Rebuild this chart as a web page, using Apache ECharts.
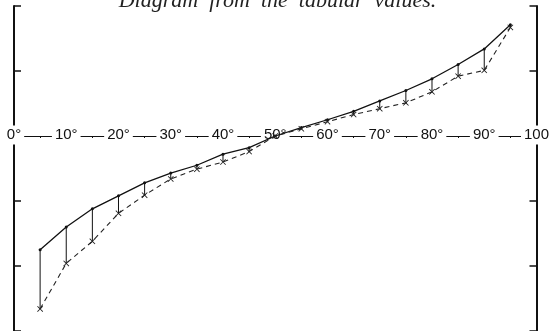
<!DOCTYPE html>
<html>
<head>
<meta charset="utf-8">
<script src="https://cdn.jsdelivr.net/npm/echarts@6/dist/echarts.min.js"></script>
<style>
  html, body { margin: 0; padding: 0; background: #fff; }
  #chart { width: 555px; height: 331px; }
</style>
</head>
<body>
<div id="chart"></div>
<script>
// 角度 (5° 一格)
const degrees = [5, 10, 15, 20, 25, 30, 35, 40, 45, 50, 55, 60, 65, 70, 75, 80, 85, 90, 95]
// 實線 (圓點)
const solidValues = [-1.75, -1.40, -1.12, -0.92, -0.72, -0.57, -0.45, -0.28, -0.18, 0, 0.13, 0.25, 0.38, 0.54, 0.70, 0.88, 1.10, 1.34, 1.71]
// 虛線 (叉號)
const dashedValues = [-2.66, -1.96, -1.62, -1.19, -0.91, -0.66, -0.51, -0.40, -0.24, 0, 0.11, 0.22, 0.33, 0.42, 0.51, 0.68, 0.92, 1.01, 1.67]
// 橫軸刻度標籤
const tickLabels = { 0: '0°', 10: '10°', 20: '20°', 30: '30°', 40: '40°', 50: '50°', 60: '60°', 70: '70°', 80: '80°', 90: '90°', 100: '100' }

const chart = echarts.init(document.getElementById('chart'))

const crossSymbol = 'path://M0,1L1,0L5,4L9,0L10,1L6,5L10,9L9,10L5,6L1,10L0,9L4,5Z'

const yAxisBase = {
  type: 'value',
  min: -3,
  max: 2,
  interval: 1,
  z: 0,
  axisLine: { show: true, lineStyle: { color: '#111', width: 2 } },
  axisTick: { show: true, inside: true, length: 7, lineStyle: { color: '#111', width: 1.5 } },
  axisLabel: { show: false },
  splitLine: { show: false }
}

const option = {
  backgroundColor: '#fff',
  animation: false,
  title: {
    text: 'Diagram  from  the  tabular  values.',
    left: 'center',
    top: -15,
    textStyle: {
      fontFamily: 'Liberation Serif',
      fontStyle: 'italic',
      fontWeight: 'normal',
      fontSize: 22,
      color: '#222'
    }
  },
  grid: { left: 14, right: 15, top: 6, bottom: 0 },
  xAxis: {
    type: 'value',
    min: 0,
    max: 100,
    interval: 5,
    z: 1,
    position: 'bottom',
    // 橫軸放在 0 的位置 (圖高 325 的 3/5)
    offset: -195,
    axisLine: { onZero: false, lineStyle: { color: '#111', width: 1 } },
    axisTick: { show: true, length: 2, lineStyle: { color: '#111' } },
    splitLine: { show: false },
    axisLabel: {
      margin: -1,
      verticalAlign: 'middle',
      showMinLabel: true,
      showMaxLabel: true,
      formatter: (v) => (tickLabels[v] ? '{t|' + tickLabels[v] + '}' : ''),
      rich: {
        t: {
          fontFamily: 'Liberation Sans',
          fontSize: 15,
          color: '#111',
          backgroundColor: '#fff',
          padding: [2, 3]
        }
      }
    }
  },
  yAxis: [
    Object.assign({}, yAxisBase, { position: 'left' }),
    Object.assign({}, yAxisBase, { position: 'right' })
  ],
  series: [
    {
      // 兩線之間的垂直連線
      type: 'custom',
      z: 2,
      data: degrees.map((d, i) => [d, solidValues[i], dashedValues[i]]),
      renderItem: (params, api) => {
        const top = api.coord([api.value(0), api.value(1)])
        const bottom = api.coord([api.value(0), api.value(2)])
        return {
          type: 'line',
          shape: { x1: top[0], y1: top[1], x2: bottom[0], y2: bottom[1] },
          style: { stroke: '#111', lineWidth: 1 }
        }
      }
    },
    {
      type: 'line',
      z: 3,
      data: degrees.map((d, i) => [d, solidValues[i]]),
      symbol: 'circle',
      symbolSize: 3,
      lineStyle: { color: '#111', width: 1.3 },
      itemStyle: { color: '#111' }
    },
    {
      type: 'line',
      z: 3,
      data: degrees.map((d, i) => [d, dashedValues[i]]),
      symbol: crossSymbol,
      symbolSize: 6,
      lineStyle: { color: '#222', width: 1.1, type: [5, 4] },
      itemStyle: { color: '#222' }
    }
  ]
}

chart.setOption(option)
</script>
</body>
</html>
